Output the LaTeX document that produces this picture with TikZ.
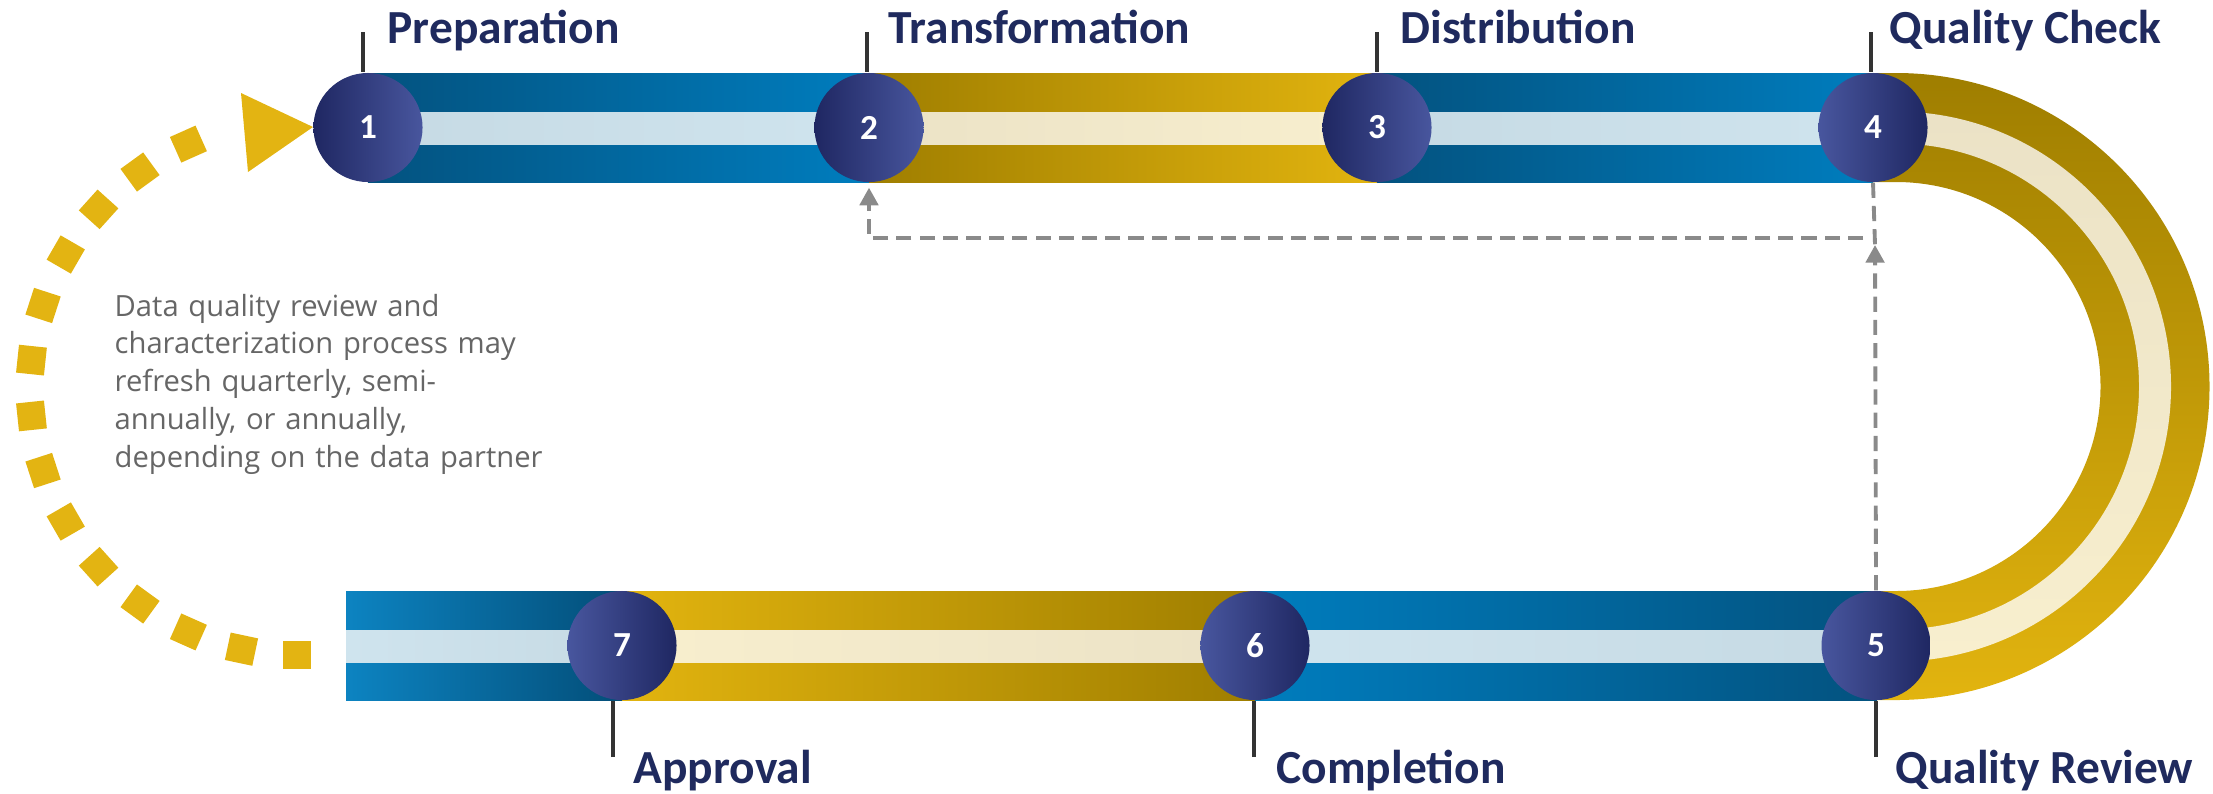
\documentclass[tikz,border=0pt]{standalone}
\usepackage{fontspec}
\setmainfont{Carlito}
\newfontfamily\notefont{Open Sans}
\usetikzlibrary{arrows.meta,calc}
\definecolor{gold}{HTML}{E3B412}
\definecolor{golddark}{HTML}{9F7E00}
\definecolor{goldlight}{HTML}{E2B40F}
\definecolor{bluedark}{HTML}{03527F}
\definecolor{bluelight}{HTML}{007DBE}
\definecolor{stripeblue}{HTML}{CFE4EE}
\definecolor{stripebluedark}{HTML}{C6DAE4}
\definecolor{cream}{HTML}{F8EFCE}
\definecolor{creamdark}{HTML}{EBE2C6}
\definecolor{navy}{HTML}{1F2A5E}
\definecolor{discdark}{HTML}{1F2762}
\definecolor{disclight}{HTML}{48569E}
\definecolor{dashgray}{HTML}{8A8A8A}
\definecolor{notegray}{HTML}{666666}
\definecolor{tickgray}{HTML}{333333}
\begin{document}
\begin{tikzpicture}[x=0.01cm,y=-0.01cm,
  disc/.style={circle, minimum size=1.09cm, inner sep=0pt,
    font=\fontsize{10}{12}\selectfont\bfseries, text=white},
  discL/.style={disc, left color=discdark, right color=disclight},
  discR/.style={disc, left color=disclight, right color=discdark},
  steplabel/.style={font=\fontsize{13.5}{16}\selectfont\bfseries, text=navy,
    anchor=base west, inner sep=0pt},
  tick/.style={draw=tickgray, line width=1.1pt},
  flow/.style={draw=dashgray, line width=1.1pt, dash pattern=on 4.3pt off 2.3pt},
  flowtip/.style={-{Triangle[width=5.2pt,length=5pt]}},
  sq/.style={rectangle, fill=gold, minimum size=0.28cm, inner sep=0pt},
]
\useasboundingbox (0,0) rectangle (2213,793);

% ---------- top pipe ----------
\shade[left color=bluedark, right color=bluelight] (368,73) rectangle (869,182);
\shade[left color=golddark, right color=goldlight] (869,73) rectangle (1377,182);
\shade[left color=bluedark, right color=bluelight] (1377,73) rectangle (1873,182);
\shade[left color=stripebluedark, right color=stripeblue] (368,112) rectangle (869,144);
\shade[left color=creamdark, right color=cream] (869,112) rectangle (1377,144);
\shade[left color=stripebluedark, right color=stripeblue] (1377,112) rectangle (1873,144);

% ---------- U turn ----------
\shade[top color=golddark, bottom color=goldlight]
  (1872,73) -- (1896,73) arc[start angle=-90, end angle=90, radius=313.5]
  -- (1876,700) -- (1876,591) -- (1896,591)
  arc[start angle=90, end angle=-90, radius=204.5] -- (1872,182) -- cycle;
\shade[top color=creamdark, bottom color=cream]
  (1872,111.5) -- (1896,111.5) arc[start angle=-90, end angle=90, radius=275]
  -- (1876,661.5) -- (1876,629.5) -- (1896,629.5)
  arc[start angle=90, end angle=-90, radius=243] -- (1872,143.5) -- cycle;

% ---------- bottom pipe ----------
\shade[left color=bluelight!95!white, right color=bluedark!95!black] (346,591) rectangle (622,700);
\shade[left color=goldlight, right color=golddark] (622,591) rectangle (1255,700);
\shade[left color=bluelight, right color=bluedark] (1255,591) rectangle (1877,700);
\shade[left color=stripeblue, right color=stripebluedark] (346,630) rectangle (622,662);
\shade[left color=cream, right color=creamdark] (622,630) rectangle (1255,662);
\shade[left color=stripeblue, right color=stripebluedark] (1255,630) rectangle (1877,662);

% ---------- discs ----------
\node[discL] (c1) at (368,127.5) {1};
\node[discL] (c2) at (869,127.5) {2};
\node[discL] (c3) at (1377,127.5) {3};
\node[discR] (c4) at (1873,127.5) {4};
\node[discR] (c5) at (1876,645.5) {5};
\node[discR] (c6) at (1255,645.5) {6};
\node[discR] (c7) at (622,645.5) {7};

% ---------- labels and ticks ----------
\node[steplabel] (l1) at (387,43) {Preparation};
\node[steplabel] (l2) at (888,43) {Transformation};
\node[steplabel] (l3) at (1400,43) {Distribution};
\node[steplabel] (l4) at (1889,43) {Quality Check};
\node[steplabel] (l5) at (1895,783) {Quality Review};
\node[steplabel] (l6) at (1276,783) {Completion};
\node[steplabel] (l7) at (633,783) {Approval};

\coordinate (t1) at (363,32);
\coordinate (t2) at (867,32);
\coordinate (t3) at (1377,32);
\coordinate (t4) at (1871,32);
\coordinate (t5) at (1876,757);
\coordinate (t6) at (1254,757);
\coordinate (t7) at (613,757);
\draw[tick] (t1) -- (t1 |- c1.north);
\draw[tick] (t2) -- (t2 |- c2.north);
\draw[tick] (t3) -- (t3 |- c3.north);
\draw[tick] (t4) -- (t4 |- c4.north);
\draw[tick] (t5) -- (t5 |- c5.south);
\draw[tick] (t6) -- (t6 |- c6.south);
\draw[tick] (t7) -- (t7 |- c7.south);

% ---------- dashed feedback ----------
\coordinate (up5) at (1875,245);
\coordinate (hr) at (1863,238);
\coordinate (hl) at (869,238);
\draw[flow] (c4.south) -- (up5);
\draw[flow, flowtip] (c5.north) -- (up5);
\draw[flow, flowtip, shorten >=1.4pt] (hr) -- (hl) -- (c2.south);

% ---------- dotted return arc ----------
\coordinate (arcc) at (297,388);
\foreach \a in {90,102,...,246}
  \node[sq, rotate=-\a] at ($(arcc)+(\a:267)$) {};
\fill[gold] (241,93) -- (313,127) -- (248,172) -- cycle;

% ---------- note ----------
\node[anchor=base west, inner sep=0pt, text width=8cm, align=left, text=notegray,
  font=\notefont\fontsize{8.3}{10.75}\selectfont] (note) at (114,316)
  {Data quality review and\\ characterization process may\\ refresh quarterly, semi-\\ annually, or annually,\\ depending on the data partner};
\end{tikzpicture}
\end{document}
